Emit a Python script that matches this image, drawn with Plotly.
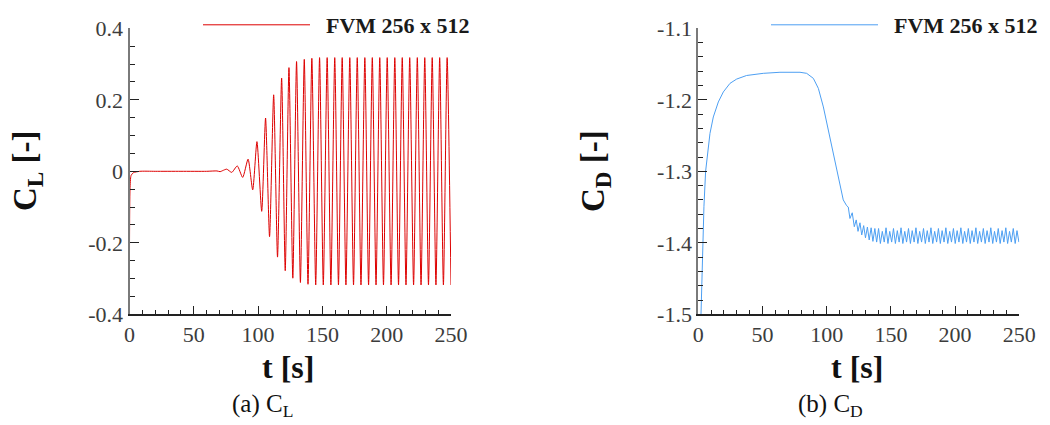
import plotly.graph_objects as go

# ---------------- data ----------------
x_ticks = [0, 50, 100, 150, 200, 250]

cl_ticks = [0.4, 0.2, 0.0, -0.2, -0.4]
cl_tick_text = ["0.4", "0.2", "0", "-0.2", "-0.4"]
cd_ticks = [-1.1, -1.2, -1.3, -1.4, -1.5]
cd_tick_text = ["-1.1", "-1.2", "-1.3", "-1.4", "-1.5"]

# lift coefficient: start-up transient, then extrema of the oscillation
cl_t = [0, 0.4, 1.2, 3, 8, 20, 40, 60, 68, 70.5, 72.5, 75.6, 79.5, 83.8, 88.0,
        92.2, 95.8, 99.1, 102.8, 105.8, 108.9, 112.1, 115.1, 118.3, 121.1,
        124.0, 127.0, 129.9, 132.9, 135.9, 138.8, 141.8, 144.8, 147.8, 150.7,
        153.7, 156.6, 159.6, 162.5, 165.4, 168.3, 171.3, 174.2, 177.1, 180.0,
        183.0, 185.9, 188.8, 191.7, 194.6, 197.5, 200.4, 203.4, 206.3, 209.2,
        212.1, 215.0, 217.9, 220.9, 223.8, 226.7, 229.6, 232.5, 235.4, 238.3,
        241.2, 244.1, 247.0, 250.0]
cl_v = [-0.23, -0.05, -0.012, -0.004, 0.0, 0.0, 0.0, 0.0, 0.001, -0.001, 0.002,
        0.006, -0.003, 0.015, -0.017, 0.034, -0.052, 0.083, -0.112, 0.149,
        -0.183, 0.214, -0.24, 0.261, -0.278, 0.29, -0.299, 0.307, -0.311,
        0.313, -0.316, 0.316, -0.318, 0.318, -0.318, 0.318, -0.318, 0.318,
        -0.318, 0.318, -0.318, 0.318, -0.318, 0.318, -0.318, 0.318, -0.318,
        0.318, -0.318, 0.318, -0.318, 0.318, -0.318, 0.318, -0.318, 0.318,
        -0.318, 0.318, -0.318, 0.318, -0.318, 0.318, -0.318, 0.318, -0.318,
        0.318, -0.318, 0.318, -0.318]

# drag coefficient
cd_t = [1.2, 2.1, 3.4, 4.4, 5.7, 7.3, 9.1, 11.7, 15.6, 19.5, 24.7, 29.9, 37.6,
        50.6, 63.6, 79.2, 84.4, 89.6, 93.5, 97.4, 101.2, 105.1, 107.7, 110.3,
        112.9, 115.5, 116.8, 118.1, 119.9, 121.5, 123.0, 124.4, 125.9, 127.3,
        128.8, 130.2, 131.7, 133.1, 134.6, 136.0, 137.5, 138.9,
        140.4, 141.8, 143.3, 144.8, 146.2, 147.7, 149.1, 150.6, 152.0, 153.5,
        155.0, 156.4, 157.9, 159.3, 160.8, 162.2, 163.7, 165.2, 166.6, 168.1,
        169.5, 171.0, 172.4, 173.9, 175.4, 176.8, 178.3, 179.7, 181.2, 182.6,
        184.1, 185.6, 187.0, 188.5, 189.9, 191.4, 192.8, 194.3, 195.8, 197.2,
        198.7, 200.1, 201.6, 203.0, 204.5, 206.0, 207.4, 208.9, 210.3, 211.8,
        213.2, 214.7, 216.2, 217.6, 219.1, 220.5, 222.0, 223.4, 224.9, 226.4,
        227.8, 229.3, 230.7, 232.2, 233.6, 235.1, 236.6, 238.0, 239.5, 240.9,
        242.4, 243.8, 245.3, 246.8, 248.2, 249.7]
cd_v = [-1.56, -1.5, -1.424, -1.349, -1.30, -1.27, -1.247, -1.224, -1.203,
        -1.189, -1.177, -1.171, -1.166, -1.163, -1.1615, -1.1615, -1.163,
        -1.17, -1.184, -1.21, -1.242, -1.279, -1.30, -1.321, -1.34, -1.348,
        -1.350, -1.366, -1.358, -1.3775, -1.368, -1.384, -1.372, -1.389,
        -1.376, -1.393, -1.378, -1.396, -1.379, -1.398, -1.380, -1.399,
        -1.380, -1.401, -1.384, -1.399, -1.379, -1.401, -1.384, -1.399,
        -1.380, -1.401, -1.383, -1.399, -1.379, -1.401, -1.384, -1.399,
        -1.380, -1.401, -1.383, -1.399, -1.379, -1.401, -1.384, -1.399,
        -1.380, -1.401, -1.383, -1.399, -1.379, -1.401, -1.384, -1.399,
        -1.380, -1.401, -1.383, -1.399, -1.379, -1.401, -1.384, -1.399,
        -1.380, -1.401, -1.383, -1.399, -1.379, -1.401, -1.384, -1.399,
        -1.380, -1.401, -1.383, -1.399, -1.379, -1.401, -1.384, -1.399,
        -1.380, -1.401, -1.383, -1.399, -1.379, -1.401, -1.384, -1.399,
        -1.380, -1.401, -1.383, -1.399, -1.379, -1.401, -1.384, -1.399,
        -1.380, -1.401, -1.383, -1.399]

series_name = "FVM 256 x 512"
SERIF = "Liberation Serif"

# the page body has an 8 px margin: figure occupies 8..1050 x 8..425
OFF = 8
W, H = 1050 - OFF, 425 - OFF

def fx(px):
    return (px - OFF) / W

def fy(py):
    return 1 - (py - OFF) / H

fig = go.Figure()
fig.add_trace(go.Scatter(x=cl_t, y=cl_v, mode="lines", name="\u00a0\u00a0" + series_name,
                         line=dict(color="#dd0000", width=1, shape="spline", smoothing=0.6),
                         xaxis="x", yaxis="y", legend="legend"))
fig.add_trace(go.Scatter(x=cd_t, y=cd_v, mode="lines", name="\u00a0\u00a0" + series_name,
                         line=dict(color="#4d9ff2", width=1),
                         xaxis="x2", yaxis="y2", legend="legend2"))

tick_font = dict(family=SERIF, size=22, color="#3c3c3c")

def xax(domain, anchor):
    return dict(domain=domain, anchor=anchor, range=[0, 250], tickvals=x_ticks,
                automargin=False,
                showline=True, linecolor="#222222", linewidth=1.5, mirror=False,
                ticks="inside", ticklen=9, tickwidth=1.2, tickcolor="#222222",
                minor=dict(dtick=10, ticks="inside", ticklen=5, tickwidth=1, tickcolor="#222222"),
                showgrid=False, zeroline=False, tickfont=tick_font)

def yax(domain, anchor, rng, vals, text, mdt):
    return dict(domain=domain, anchor=anchor, range=rng, tickvals=vals, ticktext=text,
                automargin=False,
                showline=True, linecolor="#7a7a7a", linewidth=2,
                ticks="inside", ticklen=9, tickwidth=1.2, tickcolor="#222222",
                minor=dict(dtick=mdt, tick0=0, ticks="inside", ticklen=5, tickwidth=1, tickcolor="#222222"),
                showgrid=False, zeroline=False, tickfont=tick_font)

legend_font = dict(family=SERIF, size=22, color="#1a1a1a", weight="bold")
ydom = [fy(314.3), fy(28.3)]
fig.update_layout(
    template="none",
    width=W, height=H,
    margin=dict(l=0, r=0, t=0, b=0, autoexpand=False),
    paper_bgcolor="white", plot_bgcolor="white",
    xaxis=xax([fx(129.5), fx(451)], "y"),
    yaxis=yax(ydom, "x", [-0.4, 0.4], cl_ticks, cl_tick_text, 0.05),
    xaxis2=xax([fx(698.3), fx(1019.3)], "y2"),
    yaxis2=yax(ydom, "x2", [-1.5, -1.1], cd_ticks, cd_tick_text, 0.02),
    legend=dict(x=fx(198), y=fy(25), xanchor="left", yanchor="middle", itemwidth=107,
                bgcolor="rgba(0,0,0,0)", font=legend_font),
    legend2=dict(x=fx(766), y=fy(25), xanchor="left", yanchor="middle", itemwidth=107,
                 bgcolor="rgba(0,0,0,0)", font=legend_font),
    showlegend=True,
)

ann = []
title_font = dict(family=SERIF, size=33, color="#111111")
ann.append(dict(text="<b>C<sub>L</sub> [-]</b>", x=27, y=171, textangle=-90, font=title_font))
ann.append(dict(text="<b>C<sub>D</sub> [-]</b>", x=595, y=171, textangle=-90, font=title_font))
ann.append(dict(text="<b>t [s]</b>", x=288, y=367, font=dict(family=SERIF, size=32, color="#111111")))
ann.append(dict(text="<b>t [s]</b>", x=857, y=367, font=dict(family=SERIF, size=32, color="#111111")))
cap_font = dict(family=SERIF, size=25, color="#111111")
ann.append(dict(text="(a) C<sub>L</sub>", x=262, y=405, font=cap_font))
ann.append(dict(text="(b) C<sub>D</sub>", x=830, y=405, font=cap_font))
for a in ann:
    a["showarrow"] = False
    a["xref"] = "paper"
    a["yref"] = "paper"
    a["x"] = fx(a["x"])
    a["y"] = fy(a["y"])
    a["xanchor"] = "center"
    a["yanchor"] = "middle"
fig.update_layout(annotations=ann)

fig.write_html("out.html")
